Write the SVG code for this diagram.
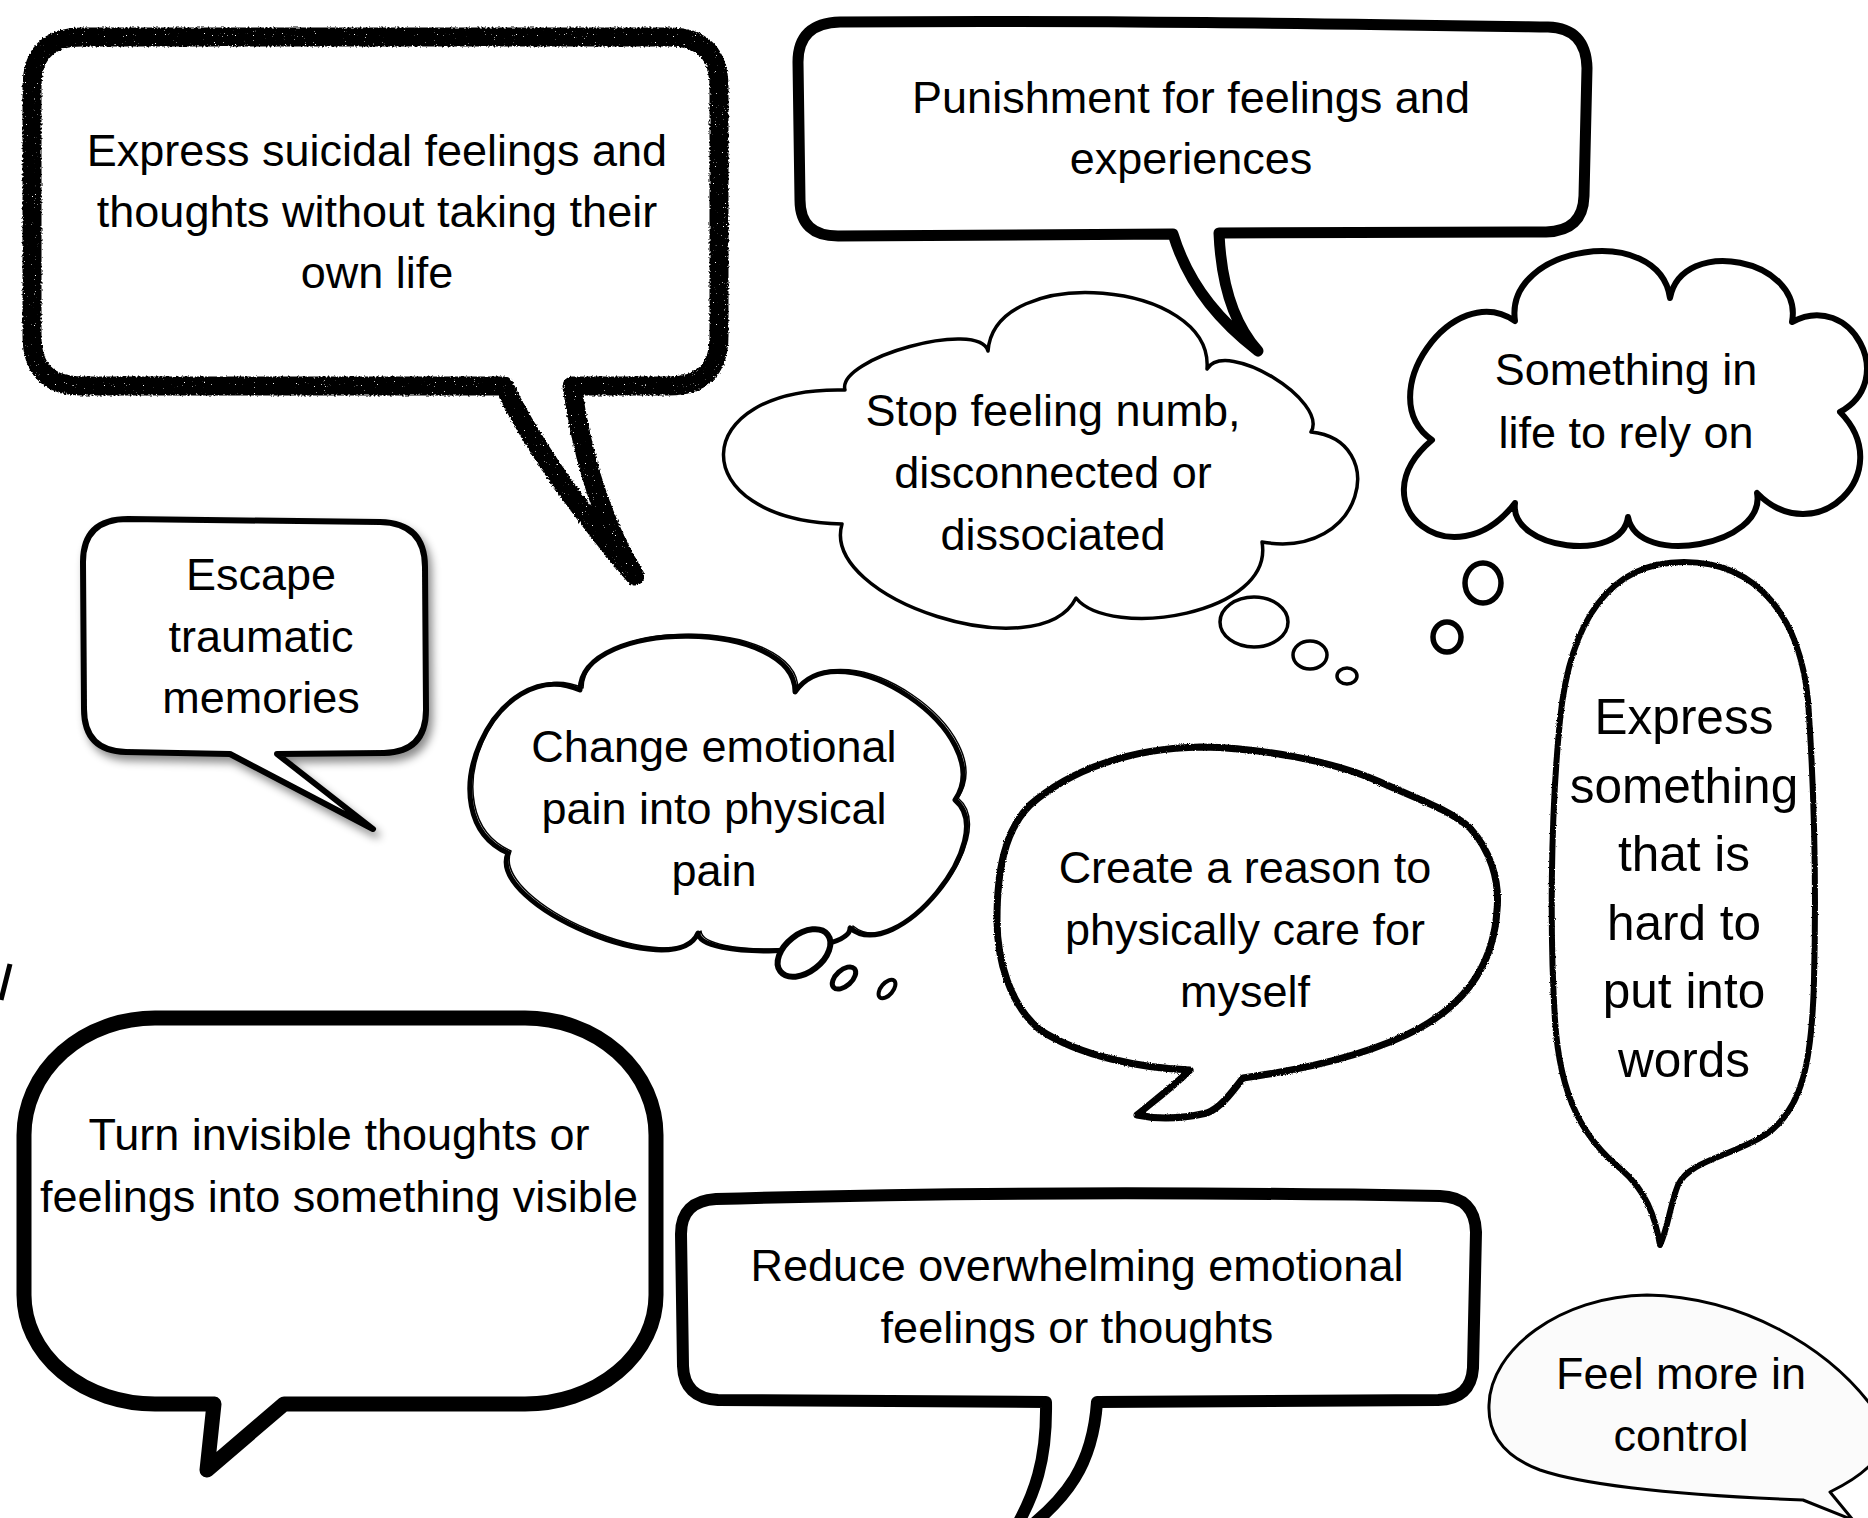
<svg xmlns="http://www.w3.org/2000/svg" width="1868" height="1518" viewBox="0 0 1868 1518">
<defs>
<style>
.t{font-family:"Liberation Sans",Arial,Helvetica,sans-serif;font-size:45px;fill:#000;text-anchor:middle}
.big{font-size:49.5px}
.ol{fill:#fff;stroke:#000;stroke-linejoin:round;stroke-linecap:round}
.thin{fill:none;stroke:#000;stroke-linejoin:round}
</style>
<filter id="chalk" x="-10%" y="-10%" width="120%" height="120%">
<feTurbulence type="fractalNoise" baseFrequency="0.5" numOctaves="2" seed="7" result="n"/>
<feDisplacementMap in="SourceGraphic" in2="n" scale="4" xChannelSelector="R" yChannelSelector="G" result="d"/>
<feTurbulence type="fractalNoise" baseFrequency="0.9" numOctaves="1" seed="3" result="n2"/>
<feColorMatrix in="n2" type="matrix" values="0 0 0 0 0  0 0 0 0 0  0 0 0 0 0  0 0 0 18 -12.8" result="holes"/>
<feComposite in="d" in2="holes" operator="out"/>
</filter>
<filter id="rough" x="-5%" y="-5%" width="110%" height="110%">
<feTurbulence type="fractalNoise" baseFrequency="0.9" numOctaves="2" seed="2" result="n"/>
<feDisplacementMap in="SourceGraphic" in2="n" scale="2.5" xChannelSelector="R" yChannelSelector="G"/>
</filter>
<filter id="shadow" x="-10%" y="-10%" width="130%" height="130%">
<feDropShadow dx="4" dy="6" stdDeviation="4" flood-color="#000" flood-opacity="0.45"/>
</filter>
</defs>
<rect width="1868" height="1518" fill="#fff"/>

<g id="node-express-suicidal">
<path d="M 82 37 L 669 37 Q 719 37 719 87 L 719 336 Q 719 386 669 386 L 572 386 C 580 440 595 510 635 576 C 600 535 540 460 504 386 L 82 386 Q 32 386 32 336 L 32 87 Q 32 37 82 37 Z" fill="#fff"/>
<path d="M 82 37 L 669 37 Q 719 37 719 87 L 719 336 Q 719 386 669 386 L 572 386 C 580 440 595 510 635 576 C 600 535 540 460 504 386 L 82 386 Q 32 386 32 336 L 32 87 Q 32 37 82 37 Z" class="thin" stroke-width="19" filter="url(#chalk)"/>
<text class="t" x="377" y="166">Express suicidal feelings and</text>
<text class="t" x="377" y="227">thoughts without taking their</text>
<text class="t" x="377" y="288">own life</text>
</g>

<g id="node-punishment">
<path class="ol" stroke-width="11" d="M 840 22 C 1100 20 1350 24 1548 27 Q 1586 28 1587 68 L 1584 196 Q 1583 231 1546 232 L 1219 233 C 1221 280 1232 322 1258 351 C 1225 325 1190 290 1173 234 L 838 236 Q 800 236 800 200 L 798 62 Q 798 23 840 22 Z"/>
<text class="t" x="1191" y="113">Punishment for feelings and</text>
<text class="t" x="1191" y="174">experiences</text>
</g>

<g id="node-stop-feeling-numb">
<path class="ol" stroke-width="3.5" d="M 845 390 C 836 358 979 319 988 351 C 995 262 1214 280 1207 369 C 1226 338 1329 401 1311 432 C 1390 440 1365 560 1262 542 C 1275 615 1110 640 1076 598 C 1040 670 820 600 842 524 C 682 520 685 386 845 390 Z"/>
<ellipse class="ol" stroke-width="3.5" cx="1254" cy="622" rx="34" ry="25"/>
<ellipse class="ol" stroke-width="3.5" cx="1310" cy="655" rx="17" ry="14"/>
<ellipse class="ol" stroke-width="3.5" cx="1347" cy="676" rx="10" ry="8"/>
<text class="t" x="1053" y="426">Stop feeling numb,</text>
<text class="t" x="1053" y="488">disconnected or</text>
<text class="t" x="1053" y="550">dissociated</text>
</g>

<g id="node-something-to-rely-on">
<path class="ol" stroke-width="6" d="M 1432 440 C 1370 397 1453 278 1515 321 C 1504 245 1659 222 1670 298 C 1682 235 1804 259 1792 322 C 1851 290 1899 380 1840 412 C 1899 472 1816 553 1757 493 C 1767 545 1638 569 1628 517 C 1622 564 1509 550 1515 503 C 1454 583 1355 505 1432 440 Z"/>
<ellipse class="ol" stroke-width="5.5" cx="1483" cy="583" rx="18" ry="20"/>
<ellipse class="ol" stroke-width="5.5" cx="1447" cy="637" rx="14" ry="15"/>
<text class="t" x="1626" y="385">Something in</text>
<text class="t" x="1626" y="448">life to rely on</text>
</g>

<g id="node-escape-traumatic">
<path class="ol" stroke-width="6" filter="url(#shadow)" d="M 128 519 L 380 522 Q 425 523 425 567 L 426 710 Q 426 752 384 753 L 277 754 L 373 829 L 230 754 L 126 752 Q 84 751 84 709 L 83 562 Q 83 519 128 519 Z"/>
<text class="t" x="261" y="590">Escape</text>
<text class="t" x="261" y="652">traumatic</text>
<text class="t" x="261" y="713">memories</text>
</g>

<g id="node-change-emotional-pain">
<path class="ol" stroke-width="5" d="M 580 690 C 581 617 796 619 795 692 C 840 626 1000 734 955 800 C 1001 838 896 966 850 928 C 851 955 699 960 698 933 C 676 985 486 905 508 853 C 423 815 495 652 580 690 Z"/>
<path class="thin" stroke-width="1.5" transform="translate(3,-2)" d="M 580 690 C 581 617 796 619 795 692 C 840 626 1000 734 955 800 C 1001 838 896 966 850 928 C 851 955 699 960 698 933 C 676 985 486 905 508 853 C 423 815 495 652 580 690 Z"/>
<ellipse class="ol" stroke-width="6" cx="0" cy="0" rx="30" ry="19" transform="translate(804,953) rotate(-38)"/>
<ellipse class="ol" stroke-width="5" cx="0" cy="0" rx="14" ry="8" transform="translate(844,978) rotate(-42)"/>
<ellipse class="ol" stroke-width="4" cx="0" cy="0" rx="11" ry="6" transform="translate(887,989) rotate(-50)"/>
<text class="t" x="714" y="762">Change emotional</text>
<text class="t" x="714" y="824">pain into physical</text>
<text class="t" x="714" y="886">pain</text>
</g>

<g id="node-create-reason">
<path class="ol" stroke-width="7" filter="url(#rough)" d="M 1201 747 C 1260 748 1330 760 1380 782 C 1420 800 1450 810 1470 828 C 1490 850 1500 880 1497 910 C 1494 960 1470 1000 1420 1028 C 1370 1055 1300 1070 1243 1078 C 1230 1095 1220 1108 1207 1113 C 1185 1118 1160 1120 1137 1115 C 1155 1100 1175 1085 1190 1070 C 1140 1068 1080 1056 1040 1030 C 1010 1005 997 960 997 920 C 997 870 1005 830 1030 805 C 1070 770 1130 748 1201 747 Z"/>
<text class="t" x="1245" y="883">Create a reason to</text>
<text class="t" x="1245" y="945">physically care for</text>
<text class="t" x="1245" y="1007">myself</text>
</g>

<g id="node-express-something">
<path class="ol" stroke-width="6" filter="url(#rough)" d="M 1684 562 C 1760 562 1800 620 1808 700 C 1815 800 1816 900 1814 980 C 1812 1060 1803 1110 1765 1135 C 1730 1157 1690 1160 1678 1185 C 1670 1205 1668 1228 1660 1245 C 1655 1215 1645 1190 1622 1170 C 1585 1140 1560 1100 1555 1020 C 1550 940 1550 820 1560 720 C 1570 620 1610 562 1684 562 Z"/>
<text class="t big" x="1684" y="734">Express</text>
<text class="t big" x="1684" y="803">something</text>
<text class="t big" x="1684" y="871">that is</text>
<text class="t big" x="1684" y="940">hard to</text>
<text class="t big" x="1684" y="1008">put into</text>
<text class="t big" x="1684" y="1077">words</text>
</g>

<g id="node-turn-invisible">
<path class="ol" stroke-width="15" d="M 24 1135 A 131 117 0 0 1 155 1018 L 525 1018 A 131 117 0 0 1 656 1135 L 656 1295 A 131 109 0 0 1 525 1404 L 284 1404 L 207 1470 L 214 1404 L 155 1404 A 131 109 0 0 1 24 1295 Z"/>
<text class="t" x="339" y="1150">Turn invisible thoughts or</text>
<text class="t" x="339" y="1212">feelings into something visible</text>
</g>

<g id="node-reduce-overwhelming">
<path class="ol" stroke-width="12" d="M 716 1199 C 950 1192 1200 1192 1440 1196 Q 1475 1197 1476 1232 L 1473 1368 Q 1471 1399 1438 1400 L 1097 1402 C 1093 1460 1072 1500 1005 1545 C 1038 1495 1047 1455 1046 1402 L 718 1400 Q 684 1398 683 1366 L 681 1234 Q 681 1201 716 1199 Z"/>
<text class="t" x="1077" y="1281">Reduce overwhelming emotional</text>
<text class="t" x="1077" y="1343">feelings or thoughts</text>
</g>

<g id="node-feel-in-control">
<path stroke="#000" fill="#fbfbfb" stroke-width="3" stroke-linejoin="round" d="M 1647 1295 C 1740 1297 1830 1345 1878 1415 C 1895 1445 1875 1470 1830 1492 L 1853 1520 L 1803 1500 C 1700 1496 1590 1487 1540 1470 C 1500 1455 1488 1430 1489 1405 C 1490 1350 1560 1296 1647 1295 Z"/>
<text class="t" x="1681" y="1389">Feel more in</text>
<text class="t" x="1681" y="1451">control</text>
</g>

<g id="edge-mark">
<line x1="10" y1="964" x2="1" y2="1000" stroke="#000" stroke-width="5"/>
</g>
</svg>
